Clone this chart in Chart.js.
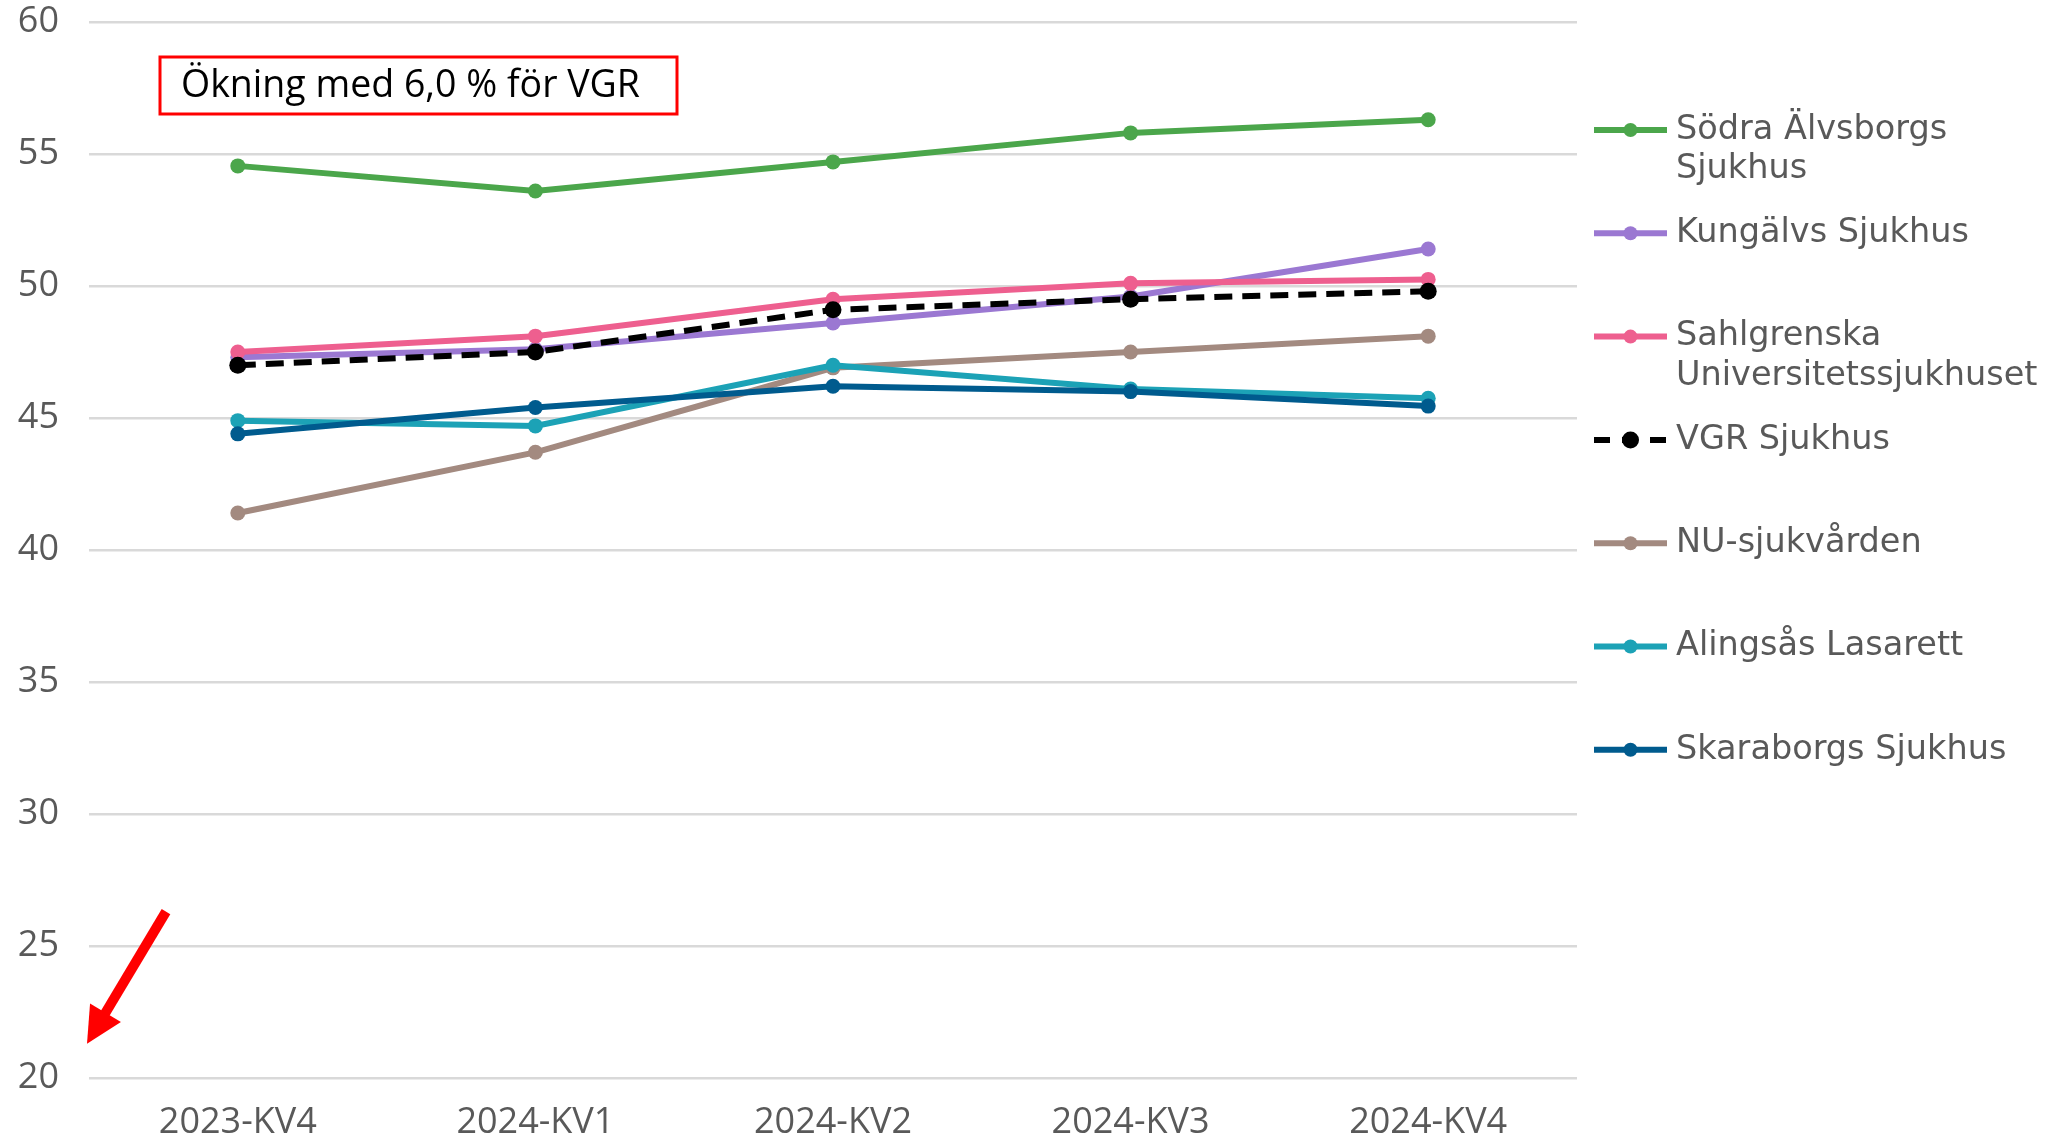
<!DOCTYPE html>
<html><head><meta charset="utf-8">
<script src="https://cdn.jsdelivr.net/npm/chart.js@4/dist/chart.umd.min.js"></script>
<style>html,body{margin:0;padding:0;background:#fff;}canvas{display:block;}</style>
</head><body>
<canvas id="c" width="2061" height="1142"></canvas>
<script>
// ---- data ----
const categories = ['2023-KV4', '2024-KV1', '2024-KV2', '2024-KV3', '2024-KV4'];
const seriesNames = ['Södra Älvsborgs Sjukhus', 'Kungälvs Sjukhus', 'Sahlgrenska Universitetssjukhuset', 'VGR Sjukhus', 'NU-sjukvården', 'Alingsås Lasarett', 'Skaraborgs Sjukhus'];
const sodraAlvsborg = [54.55, 53.6, 54.7, 55.8, 56.3];
const kungalv       = [47.3, 47.6, 48.6, 49.6, 51.4];
const sahlgrenska   = [47.5, 48.1, 49.5, 50.1, 50.25];
const vgr           = [47.0, 47.5, 49.1, 49.5, 49.8];
const nuSjukvarden  = [41.4, 43.7, 46.9, 47.5, 48.1];
const alingsas      = [44.9, 44.7, 47.0, 46.1, 45.75];
const skaraborg     = [44.4, 45.4, 46.2, 46.0, 45.45];
const yTickValues = [20, 25, 30, 35, 40, 45, 50, 55, 60];
const annotationText = 'Ökning med 6,0 % för VGR';

// ---- styles ----
const seriesValues = [sodraAlvsborg, kungalv, sahlgrenska, vgr, nuSjukvarden, alingsas, skaraborg];
const colors = ['#4BA64B', '#9B78D2', '#EE5F8F', '#000000', '#A38A80', '#1CA2B6', '#005B8E'];
const dashed = [false, false, false, true, false, false, false];
const TICK_FONT = '"Open Sans", "Noto Sans", sans-serif';
const LEGEND_FONT = '"DejaVu Sans", Verdana, sans-serif';

const datasets = seriesValues.map((vals, i) => ({
  label: seriesNames[i],
  data: vals,
  borderColor: colors[i],
  backgroundColor: colors[i],
  pointBackgroundColor: colors[i],
  pointBorderColor: colors[i],
  pointBorderWidth: 0,
  pointRadius: dashed[i] ? 8.5 : 7.5,
  borderWidth: 6,
  borderDash: dashed[i] ? [18, 10] : [],
  tension: 0,
  fill: false,
  order: seriesValues.length - i
}));

const overlayPlugin = {
  id: 'overlay',
  afterDraw(chart) {
    const ctx = chart.ctx;
    const area = chart.chartArea;
    // legend
    ctx.save();
    const lx0 = area.right + 17, lx1 = area.right + 90;
    const tx = area.right + 99;
    const maxW = chart.width - tx - 4;
    ctx.font = '33.5px ' + LEGEND_FONT;
    ctx.textBaseline = 'middle';
    chart.data.datasets.forEach((ds, i) => {
      const y = area.top + 108 + i * 103.3;
      const words = ds.label.split(' ');
      const lines = [];
      let cur = '';
      words.forEach(w => {
        const test = cur ? cur + ' ' + w : w;
        if (ctx.measureText(test).width > maxW && cur) { lines.push(cur); cur = w; }
        else cur = test;
      });
      if (cur) lines.push(cur);
      ctx.strokeStyle = ds.borderColor;
      ctx.lineWidth = 6;
      ctx.setLineDash(dashed[i] ? [16, 12] : []);
      ctx.beginPath();
      ctx.moveTo(lx0, y); ctx.lineTo(lx1, y); ctx.stroke();
      ctx.setLineDash([]);
      ctx.fillStyle = ds.borderColor;
      ctx.beginPath();
      ctx.arc((lx0 + lx1) / 2, y, dashed[i] ? 8.5 : 7, 0, Math.PI * 2);
      ctx.fill();
      ctx.fillStyle = '#595959';
      lines.forEach((ln, k) => ctx.fillText(ln, tx, y + k * 39.5));
    });
    ctx.restore();

    // annotation box
    ctx.save();
    const bx = area.left + 71, by = area.top + 35, bw = 517, bh = 57;
    ctx.strokeStyle = '#FF0000';
    ctx.lineWidth = 3;
    ctx.strokeRect(bx, by, bw, bh);
    ctx.fillStyle = '#000000';
    ctx.font = '37.5px ' + TICK_FONT;
    ctx.textBaseline = 'middle';
    ctx.fillText(annotationText, bx + 21, by + bh / 2 + 1);
    ctx.restore();

    // red arrow
    ctx.save();
    const ys = chart.scales.y;
    const tipX = area.left - 2, tipY = ys.getPixelForValue(21.3);
    const tailX = area.left + 77, tailY = ys.getPixelForValue(26.3);
    const ang = Math.atan2(tipY - tailY, tipX - tailX);
    const headLen = 36, headW = 18;
    const baseX = tipX - headLen * Math.cos(ang), baseY = tipY - headLen * Math.sin(ang);
    ctx.strokeStyle = '#FF0000';
    ctx.fillStyle = '#FF0000';
    ctx.lineWidth = 10;
    ctx.beginPath();
    ctx.moveTo(tailX, tailY); ctx.lineTo(baseX + 2 * Math.cos(ang), baseY + 2 * Math.sin(ang)); ctx.stroke();
    ctx.beginPath();
    ctx.moveTo(tipX, tipY);
    ctx.lineTo(baseX + headW * Math.sin(ang), baseY - headW * Math.cos(ang));
    ctx.lineTo(baseX - headW * Math.sin(ang), baseY + headW * Math.cos(ang));
    ctx.closePath();
    ctx.fill();
    ctx.restore();
  }
};

new Chart(document.getElementById('c'), {
  type: 'line',
  data: { labels: categories, datasets },
  options: {
    responsive: false,
    animation: false,
    devicePixelRatio: 1,
    layout: { padding: { top: 22, right: 484, bottom: 0, left: 0 } },
    plugins: { legend: { display: false }, tooltip: { enabled: false } },
    scales: {
      x: {
        offset: true,
        grid: { display: false, drawTicks: false },
        border: { display: false },
        ticks: { color: '#595959', font: { family: TICK_FONT, size: 36 }, padding: 23, maxRotation: 0 },
        afterFit(s) { s.height = 64; s.paddingLeft = 0; s.paddingRight = 0; }
      },
      y: {
        min: 20, max: 60,
        afterBuildTicks(s) { s.ticks = yTickValues.map(v => ({ value: v })); },
        grid: { color: '#D9D9D9', lineWidth: 2.5, drawTicks: false },
        border: { display: false },
        ticks: { color: '#595959', font: { family: TICK_FONT, size: 36 }, padding: 30 },
        afterFit(s) { s.width = 89; s.paddingTop = 0; s.paddingBottom = 0; }
      }
    }
  },
  plugins: [overlayPlugin]
});
</script>
</body></html>
